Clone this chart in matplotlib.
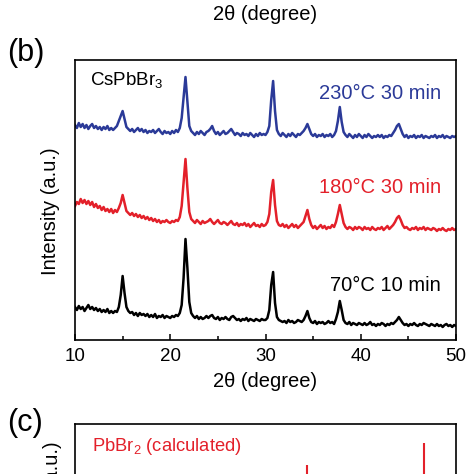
import numpy as np
import matplotlib
matplotlib.use("Agg")
import matplotlib.pyplot as plt

plt.rcParams['font.family'] = ['Liberation Sans', 'DejaVu Sans']
plt.rcParams['mathtext.fontset'] = 'custom'
plt.rcParams['mathtext.rm'] = 'Liberation Sans'
plt.rcParams['mathtext.it'] = 'Liberation Sans:italic'

# ---------------------------
# Daten (2theta-Raster 0.2 Grad, Intensitaeten abgelesen)
# ---------------------------
two_theta = np.round(np.arange(10.0, 50.001, 0.2), 1)

int_70C = [
    33, 30, 34, 31, 33, 29, 32, 35, 31, 33,
    30, 32, 29, 31, 28, 30, 28, 31, 27, 29,
    27, 29, 28, 33, 45, 64, 47, 33, 29, 27,
    28, 25, 27, 24, 27, 25, 26, 24, 26, 23,
    25, 23, 26, 22, 24, 23, 25, 22, 24, 23,
    22, 24, 23, 25, 24, 27, 35, 62, 101, 72,
    38, 27, 24, 22, 24, 21, 23, 21, 22, 24,
    22, 24, 25, 22, 21, 23, 20, 22, 21, 23,
    21, 20, 23, 24, 22, 20, 21, 19, 21, 20,
    22, 19, 21, 20, 19, 21, 20, 19, 21, 20,
    20, 22, 30, 55, 68, 37, 23, 20, 19, 18,
    19, 17, 20, 18, 19, 17, 18, 20, 19, 18,
    20, 24, 29, 22, 18, 17, 19, 16, 18, 17,
    18, 16, 17, 19, 17, 18, 16, 21, 28, 39,
    30, 20, 17, 16, 18, 15, 17, 16, 15, 17,
    16, 15, 17, 15, 16, 18, 15, 16, 14, 16,
    15, 17, 16, 14, 16, 15, 17, 16, 18, 20,
    23, 20, 17, 15, 16, 14, 16, 15, 17, 15,
    14, 16, 15, 17, 16, 15, 14, 16, 15, 14,
    16, 14, 15, 13, 15, 16, 14, 15, 13, 15,
    14,
]

int_180C = [
    134, 138, 136, 141, 137, 140, 136, 139, 135, 138,
    133, 136, 132, 134, 130, 133, 129, 131, 128, 131,
    127, 130, 128, 132, 137, 145, 137, 129, 127, 125,
    127, 124, 126, 123, 125, 122, 124, 121, 123, 120,
    122, 119, 121, 118, 120, 117, 119, 118, 120, 118,
    117, 119, 118, 120, 119, 123, 134, 157, 181, 152,
    128, 121, 119, 117, 120, 118, 116, 119, 117, 118,
    119, 121, 118, 116, 118, 120, 117, 116, 118, 117,
    115, 117, 119, 116, 115, 117, 114, 116, 115, 117,
    114, 116, 113, 115, 117, 114, 115, 113, 116, 114,
    115, 118, 126, 148, 160, 135, 119, 115, 114, 116,
    113, 115, 112, 114, 116, 113, 115, 112, 114, 116,
    118, 124, 130, 121, 115, 112, 114, 111, 113, 115,
    112, 114, 111, 113, 112, 115, 113, 118, 126, 135,
    126, 117, 113, 111, 113, 112, 110, 113, 111, 113,
    112, 110, 113, 111, 112, 110, 113, 111, 110, 112,
    111, 113, 110, 112, 114, 111, 113, 115, 118, 122,
    124, 120, 115, 112, 113, 111, 110, 112, 111, 113,
    110, 112, 111, 113, 110, 112, 111, 110, 112, 111,
    109, 111, 110, 112, 110, 109, 111, 110, 112, 110,
    111,
]

int_230C = [
    215, 212, 217, 213, 216, 212, 215, 211, 214, 216,
    212, 214, 211, 213, 210, 213, 211, 214, 210, 212,
    210, 212, 214, 219, 224, 229, 221, 213, 211, 209,
    211, 208, 210, 212, 209, 211, 208, 210, 207, 209,
    208, 210, 207, 209, 211, 208, 206, 209, 207, 208,
    206, 209, 207, 210, 208, 212, 222, 242, 263, 238,
    214, 209, 207, 205, 208, 206, 209, 207, 205, 208,
    209, 211, 214, 209, 206, 208, 205, 207, 209, 206,
    207, 209, 211, 208, 205, 207, 206, 204, 207, 205,
    206, 204, 207, 205, 203, 206, 204, 207, 205, 206,
    205, 208, 214, 240, 259, 229, 210, 206, 204, 207,
    205, 203, 206, 204, 207, 205, 203, 206, 205, 207,
    209, 212, 216, 211, 206, 204, 206, 203, 205, 204,
    206, 203, 205, 204, 206, 203, 205, 209, 219, 233,
    218, 208, 205, 203, 206, 204, 202, 205, 203, 206,
    204, 202, 205, 203, 206, 204, 202, 204, 203, 205,
    203, 205, 202, 204, 203, 205, 204, 207, 210, 214,
    216, 211, 206, 203, 205, 202, 204, 203, 205, 202,
    204, 203, 205, 202, 204, 203, 202, 204, 203, 205,
    202, 204, 203, 205, 202, 204, 203, 202, 204, 203,
    204,
]

# PbBr2 berechnete Reflexe (nur sichtbarer Teil)
pbbr2_pos = [34.4, 46.6]
pbbr2_int = [246, 268]

col_blue = '#2b3a98'
col_red = '#e3202a'

# ---------------------------
# Diagrammerstellung
# ---------------------------
fig = plt.figure(figsize=(4.74, 4.74), dpi=100)
W = H = 474.0

def ax_rect(x0, y0, x1, y1):
    return [x0 / W, 1 - y1 / H, (x1 - x0) / W, (y1 - y0) / H]

ax = fig.add_axes(ax_rect(75, 60, 456, 340))
ax.plot(two_theta, int_70C, color='black', lw=1.8)
ax.plot(two_theta, int_180C, color=col_red, lw=1.8)
ax.plot(two_theta, int_230C, color=col_blue, lw=1.8)
ax.set_xlim(10, 50)
ax.set_ylim(0, 280)
ax.set_yticks([])
ax.set_xticks([10, 20, 30, 40, 50])
ax.xaxis.set_minor_locator(plt.MultipleLocator(5))
ax.tick_params(axis='x', which='both', direction='in', labelsize=13.5, pad=6)
ax.tick_params(axis='x', which='major', length=4, width=1.1)
ax.tick_params(axis='x', which='minor', length=3, width=1.1)
for s in ax.spines.values():
    s.set_linewidth(1.2)
ax.set_xlabel('2θ (degree)', fontsize=14.5, labelpad=5)

ax.text(0.04, 0.93, 'CsPbBr$_3$', transform=ax.transAxes, fontsize=13.5,
        ha='left', va='center')
ax.text(0.96, 0.88, '230°C 30 min', transform=ax.transAxes, fontsize=14.5,
        color=col_blue, ha='right', va='center')
ax.text(0.96, 0.545, '180°C 30 min', transform=ax.transAxes, fontsize=14.5,
        color=col_red, ha='right', va='center')
ax.text(0.96, 0.195, '70°C 10 min', transform=ax.transAxes, fontsize=14.5,
        color='black', ha='right', va='center')

fig.text(50 / W, 1 - 211 / H, 'Intensity (a.u.)', rotation=90, fontsize=14.5,
         ha='center', va='center')

# Reste der Nachbarpanels
fig.text(265 / W, 1 - 15 / H, '2θ (degree)', fontsize=14.5, ha='center', va='center')
fig.text(7 / W, 1 - 53 / H, '(b)', fontsize=22, ha='left', va='center')
fig.text(7 / W, 1 - 423 / H, '(c)', fontsize=22, ha='left', va='center')

axc = fig.add_axes(ax_rect(75, 424, 456, 711))
axc.vlines(pbbr2_pos, 0, pbbr2_int, color=col_red, lw=1.5)
axc.set_xlim(10, 50)
axc.set_ylim(0, 287)
axc.set_xticks([])
axc.set_yticks([])
for s in axc.spines.values():
    s.set_linewidth(1.2)
axc.text(0.045, 0.92, 'PbBr$_2$ (calculated)', transform=axc.transAxes,
         fontsize=13.2, color=col_red, ha='left', va='center')
fig.text(53 / W, 1 - 505 / H, 'Intensity (a.u.)', rotation=90, fontsize=14.5,
         ha='center', va='center')

fig.savefig('out.png', dpi=100)
